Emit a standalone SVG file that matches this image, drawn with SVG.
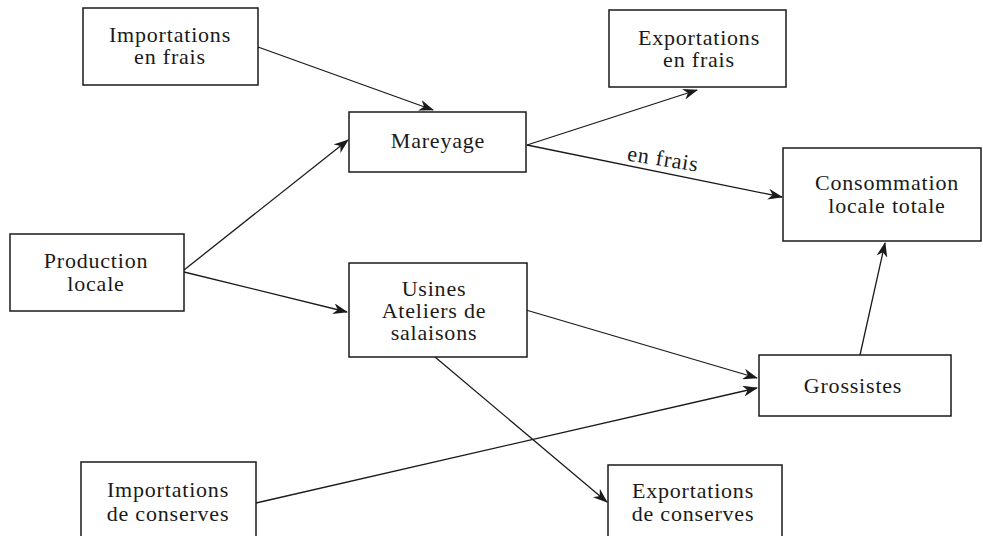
<svg xmlns="http://www.w3.org/2000/svg" width="983" height="536" viewBox="0 0 983 536">
<defs>
<style>
.box{fill:#fff;stroke:#1a1a1a;stroke-width:1.5}
.t{font-family:"Liberation Serif","DejaVu Serif",serif;font-size:22px;fill:#1a1a1a;text-anchor:middle;letter-spacing:0.8px}
.c{stroke:#1a1a1a;stroke-width:1.3;fill:none;marker-end:url(#ah)}
</style>
<marker id="ah" viewBox="0 0 15 11" refX="14" refY="5.5" markerWidth="15" markerHeight="11" markerUnits="userSpaceOnUse" orient="auto">
<path d="M0,0 L15,5.5 L0,11 L4.5,5.5 z" fill="#1a1a1a"/>
</marker>
</defs>
<rect width="983" height="536" fill="#fff"/>
<g id="connectors">
<line class="c" x1="258" y1="47" x2="433" y2="110"/>
<line class="c" x1="184" y1="270" x2="348" y2="140"/>
<line class="c" x1="184" y1="272" x2="347" y2="312"/>
<line class="c" x1="527" y1="145" x2="697" y2="90"/>
<line class="c" x1="527" y1="145" x2="782" y2="197"/>
<line class="c" x1="860" y1="355" x2="885" y2="243"/>
<line class="c" x1="526" y1="310" x2="757" y2="378"/>
<line class="c" x1="256" y1="503" x2="757" y2="388"/>
<line class="c" x1="435" y1="357" x2="607" y2="502"/>
<text class="t" x="662" y="166" font-size="19" transform="rotate(9 662 166)">en frais</text>
</g>
<g id="imp-frais"><rect class="box" x="83" y="8" width="175" height="77"/><text class="t" x="170" y="42">Importations</text><text class="t" x="170" y="64">en frais</text></g>
<g id="mareyage"><rect class="box" x="349" y="112" width="177" height="60"/><text class="t" x="438" y="148">Mareyage</text></g>
<g id="exp-frais"><rect class="box" x="609" y="10" width="177" height="77"/><text class="t" x="699" y="45">Exportations</text><text class="t" x="699" y="67">en frais</text></g>
<g id="consommation"><rect class="box" x="783" y="148" width="198" height="93"/><text class="t" x="887" y="190">Consommation</text><text class="t" x="887" y="213">locale  totale</text></g>
<g id="production"><rect class="box" x="10" y="234" width="174" height="77"/><text class="t" x="96" y="268">Production</text><text class="t" x="96" y="291">locale</text></g>
<g id="usines"><rect class="box" x="349" y="263" width="178" height="94"/><text class="t" x="434" y="296">Usines</text><text class="t" x="434" y="318">Ateliers de</text><text class="t" x="434" y="340">salaisons</text></g>
<g id="grossistes"><rect class="box" x="759" y="355" width="192" height="61"/><text class="t" x="853" y="393">Grossistes</text></g>
<g id="exp-conserves"><rect class="box" x="608" y="465" width="174" height="80"/><text class="t" x="693" y="498">Exportations</text><text class="t" x="693" y="521">de conserves</text></g>
<g id="imp-conserves"><rect class="box" x="81" y="462" width="175" height="83"/><text class="t" x="168" y="497">Importations</text><text class="t" x="168" y="521">de  conserves</text></g>
</svg>
